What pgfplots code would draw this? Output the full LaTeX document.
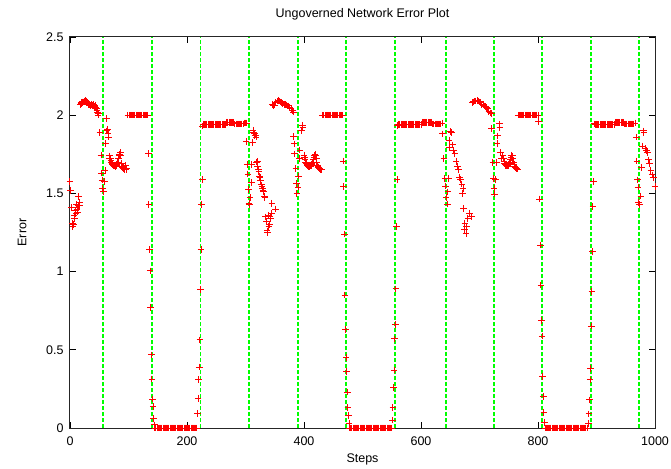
\documentclass[border=0pt]{standalone}
\usepackage{fontspec}
\setmainfont{Liberation Sans}
\usepackage{pgfplots}
\pgfplotsset{compat=1.18}
\begin{document}
\begin{tikzpicture}
\begin{axis}[
  width=585bp, height=391bp, scale only axis,
  xmin=0, xmax=1000, ymin=0, ymax=2.5,
  xtick={0,200,...,1000}, ytick={0,0.5,...,2.5},
  major tick length=6bp,
  tick style={black, line width=0.6bp},
  axis line style={line width=1bp, black!85},
  font=\fontsize{12.5bp}{15bp}\selectfont,
  /pgf/number format/assume math mode=true,
  /pgf/number format/1000 sep={},
  title={Ungoverned Network Error Plot},
  title style={at={(axis description cs:0.5,1.0358)}, anchor=base},
  xlabel={Steps},
  xlabel style={at={(axis description cs:0.5,-0.0895)}, anchor=base},
  ylabel={Error},
  ylabel style={at={(axis description cs:-0.082,0.5)}, anchor=center},
  xticklabel style={anchor=base, yshift=-17bp},
  yticklabel style={anchor=east, xshift=-3bp},
]
\addplot[ycomb, no marks, draw={rgb,255:red,0;green,255;blue,0}, line width=1.9bp, dash pattern=on 4bp off 2bp] coordinates {
(57,2.5) (140,2.5) (223,2.5) (306,2.5) (389,2.5) (472,2.5) (556,2.5) (642,2.5) (725,2.5) (807,2.5) (891,2.5) (972,2.5)
};
\addplot[only marks, mark=+, red, mark size=3.3bp, mark options={line width=1bp}] coordinates {
(0,1.575) (1,1.52) (3,1.41) (4,1.31) (5,1.29) (6,1.30) (7,1.36) (8,1.34) (9,1.39) (10,1.37) (11,1.43) (12,1.40) (13,1.38) (14,1.42) (15,1.48) (16,1.44) (17,1.42)
(18,2.07) (19,2.075) (20,2.08) (21,2.085) (22,2.08) (23,2.085) (24,2.09) (25,2.085) (26,2.09) (27,2.095) (28,2.09) (29,2.085) (30,2.08) (31,2.075) (32,2.07) (33,2.065) (34,2.07) (35,2.06) (36,2.065) (37,2.07) (38,2.065) (39,2.06) (40,2.07) (41,2.06) (42,2.055) (43,2.065) (44,2.05) (45,2.04) (46,2.03) (47,2.02) (48,2.00) (49,2.01)
(51,1.89) (53,1.745) (54,1.63) (55,1.585) (56,1.53) (57,1.51) (59,1.575) (60,1.645) (61,1.82) (62,1.98) (63,1.90) (64,1.91) (65,1.88) (66,1.86) (67,1.725)
(68,1.74) (69,1.72) (70,1.71) (71,1.70) (72,1.69) (73,1.685) (74,1.68) (75,1.675) (76,1.675) (77,1.67) (78,1.675) (79,1.68) (80,1.685) (81,1.69) (82,1.70) (83,1.72) (84,1.74) (85,1.75) (86,1.76) (87,1.74) (88,1.69) (89,1.67) (90,1.665) (91,1.66) (92,1.67) (93,1.655) (94,1.65) (95,1.68) (96,1.65) (97,1.66)
(99,2) (101,2) (103,2) (105,2) (107,2) (109,2) (111,2) (113,2) (115,2) (117,2) (119,2) (121,2) (123,2) (125,2) (127,2) (129,2) (131,2) (133,2)
(134,1.755) (135,1.43) (136,1.14) (137,1.005) (138,0.77) (139,0.467) (140,0.313) (141,0.185) (142,0.136) (143,0.062) (144,0.02)
(145,0) (147,0) (149,0) (151,0) (153,0) (155,0) (157,0) (159,0) (161,0) (163,0) (165,0) (167,0) (169,0) (171,0) (173,0) (175,0) (177,0) (179,0) (181,0) (183,0) (185,0) (187,0) (189,0) (191,0) (193,0) (195,0) (197,0) (199,0) (201,0) (203,0) (205,0) (207,0) (209,0) (211,0) (213,0) (215,0) (217,0)
(218,0.094) (219,0.19) (220,0.31) (221,0.39) (222,0.563) (223,0.887) (224,1.14) (225,1.43) (226,1.59) (227,1.93)
(228,1.942) (230,1.942) (232,1.942) (234,1.942) (236,1.942) (238,1.942) (240,1.942) (242,1.942) (244,1.942) (246,1.942) (248,1.942) (250,1.942) (252,1.942) (254,1.942) (256,1.942) (258,1.942) (260,1.942) (262,1.942) (264,1.942) (266,1.942)
(268,1.955) (270,1.955) (272,1.955) (274,1.955) (276,1.955) (278,1.955) (280,1.955)
(282,1.945) (284,1.945) (286,1.945) (288,1.945) (290,1.945) (292,1.945) (294,1.945) (296,1.945) (298,1.95) (300,1.95) (302,1.95)
(301,1.83) (303,1.686) (304,1.624) (305,1.526) (306,1.437) (307,1.43) (308,1.475) (310,1.57) (311,1.686) (312,1.826) (313,1.905) (314,1.89) (315,1.884) (316,1.87) (317,1.873) (318,1.86) (319,1.70) (320,1.703) (321,1.675) (322,1.65) (323,1.64) (324,1.607) (325,1.60) (326,1.58) (327,1.554) (328,1.547) (329,1.53) (330,1.52) (331,1.51) (332,1.48) (333,1.475)
(334,1.35) (336,1.32) (337,1.26) (338,1.25) (339,1.36) (340,1.287) (341,1.30) (342,1.35) (343,1.34) (344,1.37) (345,1.437) (351,1.40)
(346,2.07) (348,2.06) (350,2.065) (352,2.08) (354,2.09) (356,2.095) (358,2.09) (360,2.085) (362,2.08) (364,2.075) (366,2.07) (368,2.07) (370,2.065) (372,2.06) (374,2.06) (376,2.05) (378,2.04) (380,2.03) (382,2.02)
(382,1.863) (383,1.816) (384,1.752) (386,1.66) (387,1.565) (388,1.50) (390,1.54) (391,1.61) (392,1.725) (393,1.777) (396,1.90) (397,1.937) (398,1.92)
(400,1.745) (401,1.73) (402,1.715) (403,1.70) (404,1.69) (405,1.685) (406,1.68) (407,1.675) (408,1.67) (409,1.67) (410,1.675) (411,1.675) (412,1.68) (413,1.685) (414,1.69) (415,1.70) (416,1.715) (417,1.73) (418,1.745) (419,1.75) (420,1.745) (421,1.72) (422,1.70) (423,1.68) (424,1.67) (425,1.665) (426,1.66) (427,1.66) (428,1.65) (429,1.655) (430,1.65)
(432,2) (434,2) (436,2) (438,2) (440,2) (442,2) (444,2) (446,2) (448,2) (450,2) (452,2) (454,2) (456,2) (458,2) (460,2) (462,2) (464,2) (466,2)
(467,1.707) (468,1.543) (469,1.24) (470,0.85) (471,0.63) (472,0.45) (473,0.36) (474,0.23) (475,0.13) (476,0.08) (477,0.03)
(478,0) (480,0) (482,0) (484,0) (486,0) (488,0) (490,0) (492,0) (494,0) (496,0) (498,0) (500,0) (502,0) (504,0) (506,0) (508,0) (510,0) (512,0) (514,0) (516,0) (518,0) (520,0) (522,0) (524,0) (526,0) (528,0) (530,0) (532,0) (534,0) (536,0) (538,0) (540,0) (542,0) (544,0) (546,0) (548,0) (550,0)
(551,0.05) (552,0.13) (553,0.26) (554,0.37) (555,0.57) (556,0.66) (557,0.89) (558,1.29) (559,1.59) (560,1.935)
(562,1.942) (564,1.942) (566,1.942) (568,1.942) (570,1.942) (572,1.942) (574,1.942) (576,1.942) (578,1.942) (580,1.942) (582,1.942) (584,1.942) (586,1.942) (588,1.942) (590,1.942) (592,1.942) (594,1.942) (596,1.942) (598,1.942) (600,1.942)
(602,1.955) (604,1.955) (606,1.955) (608,1.955) (610,1.955) (612,1.955) (614,1.955) (616,1.955) (618,1.955)
(620,1.945) (622,1.945) (624,1.945) (626,1.945) (628,1.945) (630,1.945) (632,1.945) (634,1.945) (636,1.95)
(637,1.88) (639,1.725) (641,1.597) (642,1.547) (643,1.475) (645,1.432) (646,1.51) (647,1.597) (648,1.84) (649,1.795) (650,1.895) (652,1.89) (654,1.81) (656,1.777) (658,1.756) (660,1.703) (662,1.675) (664,1.65) (666,1.603) (668,1.59) (670,1.56) (671,1.50) (672,1.53) (673,1.405) (674,1.266) (675,1.31) (677,1.245) (678,1.29) (680,1.34) (683,1.373) (686,1.35)
(688,2.08) (690,2.085) (692,2.09) (694,2.09) (696,2.095) (698,2.09) (700,2.085) (702,2.08) (704,2.07) (706,2.07) (708,2.06) (710,2.055) (712,2.05) (714,2.04) (716,2.025) (718,2.015) (720,2.01)
(721,1.916) (723,1.696) (724,1.597) (725,1.533) (726,1.496) (727,1.59) (729,1.696) (730,1.82) (731,1.867) (734,1.944) (735,1.92) (736,1.76) (738,1.724)
(740,1.745) (741,1.72) (742,1.705) (743,1.69) (744,1.685) (745,1.68) (746,1.68) (747,1.675) (748,1.675) (749,1.68) (750,1.685) (751,1.69) (752,1.70) (753,1.715) (754,1.73) (755,1.745) (756,1.74) (757,1.72) (758,1.70) (759,1.685) (760,1.675) (761,1.67) (762,1.665) (763,1.66) (764,1.655) (765,1.655)
(766,2) (768,2) (770,2) (772,2) (774,2) (776,2) (778,2) (780,2) (782,2) (784,2) (786,2) (788,2) (790,2) (792,2) (794,2) (796,2) (798,2) (800,2)
(801,1.958) (803,1.464) (804,1.17) (805,0.914) (806,0.686) (807,0.588) (808,0.328) (809,0.20) (810,0.10) (811,0.036)
(812,0) (814,0) (816,0) (818,0) (820,0) (822,0) (824,0) (826,0) (828,0) (830,0) (832,0) (834,0) (836,0) (838,0) (840,0) (842,0) (844,0) (846,0) (848,0) (850,0) (852,0) (854,0) (856,0) (858,0) (860,0) (862,0) (864,0) (866,0) (868,0) (870,0) (872,0) (874,0) (876,0) (878,0) (880,0) (882,0) (884,0)
(886,0.03) (887,0.09) (888,0.18) (889,0.307) (890,0.38) (891,0.652) (892,0.872) (893,1.127) (894,1.415) (895,1.575) (896,1.944)
(898,1.942) (900,1.942) (902,1.942) (904,1.942) (906,1.942) (908,1.942) (910,1.942) (912,1.942) (914,1.942) (916,1.942) (918,1.942) (920,1.942) (922,1.942) (924,1.942) (926,1.942) (928,1.942) (930,1.942)
(932,1.955) (934,1.955) (936,1.955) (938,1.955) (940,1.955) (942,1.955) (944,1.955) (946,1.955)
(948,1.945) (950,1.945) (952,1.945) (954,1.945) (956,1.945) (958,1.945) (960,1.945) (962,1.945) (964,1.945) (966,1.95)
(968,1.86) (969,1.707) (970,1.586) (971,1.54) (972,1.44) (974,1.43) (976,1.483) (977,1.667) (978,1.803) (980,1.90) (981,1.89) (983,1.788) (985,1.773) (987,1.76) (989,1.714) (991,1.692) (993,1.645) (995,1.618) (997,1.60) (1000,1.543)
};
\end{axis}
\pgfresetboundingbox
\path[use as bounding box] ([xshift=-70bp,yshift=-41bp]current axis.south west) rectangle ([xshift=16bp,yshift=37bp]current axis.north east);
\end{tikzpicture}
\end{document}
